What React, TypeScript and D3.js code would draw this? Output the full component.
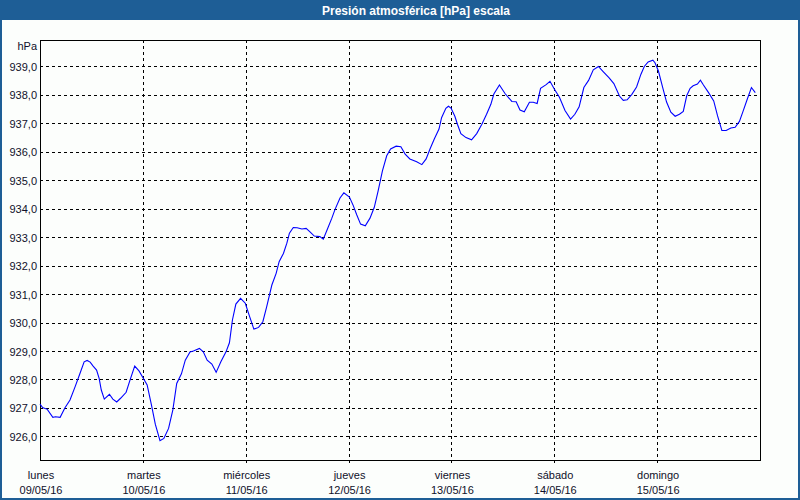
import React from 'react';
import * as d3 from 'd3';

const title = 'Presión atmosférica [hPa] escala';
const unitLabel = 'hPa';
const dayNames = ['lunes', 'martes', 'miércoles', 'jueves', 'viernes', 'sábado', 'domingo'];
const dayDates = ['09/05/16', '10/05/16', '11/05/16', '12/05/16', '13/05/16', '14/05/16', '15/05/16'];
const yTicks = [926, 927, 928, 929, 930, 931, 932, 933, 934, 935, 936, 937, 938, 939];

// hours since lunes 09/05/16 00:00
const hours = [
  0, 0.6, 1.7, 3.0, 3.6, 4.7, 5.8, 7.0, 8.2, 9.3, 10.3, 11.0, 11.7, 12.4, 13.2, 13.8, 14.3, 15.0, 16.2, 17.0,
  17.9, 18.8, 20.1, 21.0, 22.1, 23.1, 24.1, 25.0, 26.0, 26.9, 28.0, 28.9, 30.0, 31.0, 31.9, 33.0, 33.9, 35.0,
  35.8, 37.2, 38.1, 39.0, 40.1, 41.1, 42.2, 43.4, 44.2, 44.9, 45.7, 46.8, 47.9, 48.8, 49.9, 51.0, 52.0, 52.9,
  54.1, 55.1, 55.8, 56.8, 57.6, 58.2, 59.1, 60.0, 61.1, 62.1, 63.0, 64.0, 65.3, 66.1, 67.0, 68.1, 68.8,
  70.0, 70.9, 72.2, 73.1, 73.9, 74.8, 75.9, 77.0, 78.0, 78.9, 79.9, 80.9, 81.8, 83.1, 84.2, 85.2, 86.3, 87.9,
  89.1, 90.1, 91.0, 92.0, 93.1, 93.7, 94.7, 95.3, 95.9, 96.8, 97.4, 98.2, 99.4, 100.7, 101.9, 103.1, 104.2,
  105.2, 105.9, 107.2, 108.5, 110.1, 111.1, 112.0, 113.0, 114.2, 115.1, 116.0, 116.8, 118.1, 119.0, 120.0,
  121.2, 122.5, 123.8, 124.8, 125.8, 126.9, 128.0, 129.1, 130.3, 131.4, 132.8, 133.9, 135.2, 136.1, 137.0,
  138.1, 139.2, 140.2, 141.0, 141.9, 143.0, 143.5, 144.3, 145.3, 146.2, 147.2, 148.2, 149.2, 150.1, 150.9,
  151.7, 152.4, 153.4, 154.1, 154.8, 156.0, 157.2, 158.1, 159.1, 160.1, 161.2, 162.2, 163.2, 164.1, 165.0,
  166.0, 166.9,
];

const pressure = [
  927.14, 927.01, 926.95, 926.67, 926.69, 926.67, 927.0, 927.28, 927.75, 928.2, 928.62, 928.67, 928.61, 928.47,
  928.33, 928.04, 927.63, 927.31, 927.48, 927.31, 927.21, 927.34, 927.55, 927.98, 928.47, 928.3, 928.04, 927.81,
  927.11, 926.43, 925.85, 925.93, 926.28, 926.93, 927.86, 928.2, 928.68, 928.97,
  929.0, 929.09, 928.97, 928.68, 928.54, 928.25, 928.62, 928.97, 929.29, 930.09, 930.65, 930.85, 930.68, 930.26,
  929.77, 929.83, 930.03, 930.56, 931.32, 931.73, 932.14, 932.43, 932.79, 933.14, 933.34, 933.33, 933.29,
  933.31, 933.19, 933.04, 933.02, 932.93, 933.26, 933.67, 933.96,
  934.38, 934.56, 934.41, 934.11, 933.79, 933.46, 933.4, 933.67, 934.05, 934.63, 935.33, 935.86, 936.1, 936.2,
  936.18, 935.92, 935.75, 935.65, 935.55, 935.75, 936.1, 936.45, 936.8, 937.2, 937.53, 937.6, 937.54, 937.25,
  936.97, 936.64, 936.5, 936.42, 936.64, 936.97, 937.32, 937.67, 938.03, 938.35, 938.05, 937.77, 937.76,
  937.47, 937.41, 937.74, 937.74, 937.7, 938.23, 938.36, 938.48, 938.21, 937.92, 937.45, 937.15, 937.32,
  937.58, 938.26, 938.51, 938.88, 939.0, 938.82, 938.6, 938.4, 937.96, 937.81, 937.83, 938.02, 938.28,
  938.72, 939.0, 939.16, 939.22, 939.13, 938.84, 938.26, 937.75, 937.39, 937.25, 937.32, 937.42, 937.97,
  938.23, 938.32, 938.38, 938.52, 938.35, 938.08, 937.79, 937.26, 936.75, 936.75, 936.84, 936.86, 937.07,
  937.45, 937.84, 938.26, 938.08,
];

export default function App() {
  const W = 800;
  const H = 500;
  const left = 40;
  const right = 760;
  const top = 40;
  const bottom = 460;
  const frame = '#1e5e96';
  const textColor = '#10102a';
  const font = '"Liberation Sans", Arial, sans-serif';

  const x = d3.scaleLinear().domain([0, 168]).range([left, right]);
  const y = d3.scaleLinear().domain([925.17, 939.93]).range([bottom, top]);
  const fmt = (v: number) => d3.format('.1f')(v).replace('.', ',');
  const line = d3
    .line<number>()
    .x((_, i) => x(hours[i]))
    .y((d) => y(d));

  const dayTicks = dayNames.map((_, i) => i * 24);
  const snap = (v: number) => Math.round(v) + 0.5;

  return (
    <svg
      width={W}
      height={H}
      style={{ position: 'absolute', left: 0, top: 0, display: 'block' }}
      fontFamily={font}
    >
      <rect x={0} y={0} width={W} height={H} fill={frame} />
      <rect x={2} y={20} width={W - 4} height={H - 22} fill="#fcfefc" />
      <text
        x={416}
        y={14.5}
        fill="#ffffff"
        fontSize={12}
        fontWeight="bold"
        textAnchor="middle"
      >
        {title}
      </text>

      {/* horizontal grid */}
      <g shapeRendering="crispEdges">
        {yTicks.map((t) => (
          <line
            key={t}
            x1={left}
            x2={right}
            y1={snap(y(t))}
            y2={snap(y(t))}
            stroke="#000"
            strokeWidth={1}
            strokeDasharray="3,3"
          />
        ))}
        {dayTicks.slice(1).map((h) => (
          <line
            key={h}
            x1={snap(x(h))}
            x2={snap(x(h))}
            y1={top}
            y2={bottom + 3}
            stroke="#000"
            strokeWidth={1}
            strokeDasharray="3,3"
          />
        ))}
        <rect
          x={left + 0.5}
          y={top + 0.5}
          width={right - left}
          height={bottom - top}
          fill="none"
          stroke="#000"
          strokeWidth={1}
        />
      </g>

      <path d={line(pressure) || ''} fill="none" stroke="#0000ff" strokeWidth={1.1} />

      {/* y labels */}
      <g fontSize={11} fill={textColor} textAnchor="end">
        {yTicks.map((t) => (
          <text key={t} x={37} y={y(t) + 4.5}>
            {fmt(t)}
          </text>
        ))}
        <text x={37} y={50}>
          {unitLabel}
        </text>
      </g>

      {/* x labels */}
      <g fontSize={11} fill={textColor} textAnchor="middle">
        {dayTicks.map((h, i) => (
          <g key={h}>
            <text x={x(h) + 1} y={479}>
              {dayNames[i]}
            </text>
            <text x={x(h) + 1} y={494}>
              {dayDates[i]}
            </text>
          </g>
        ))}
      </g>
    </svg>
  );
}
